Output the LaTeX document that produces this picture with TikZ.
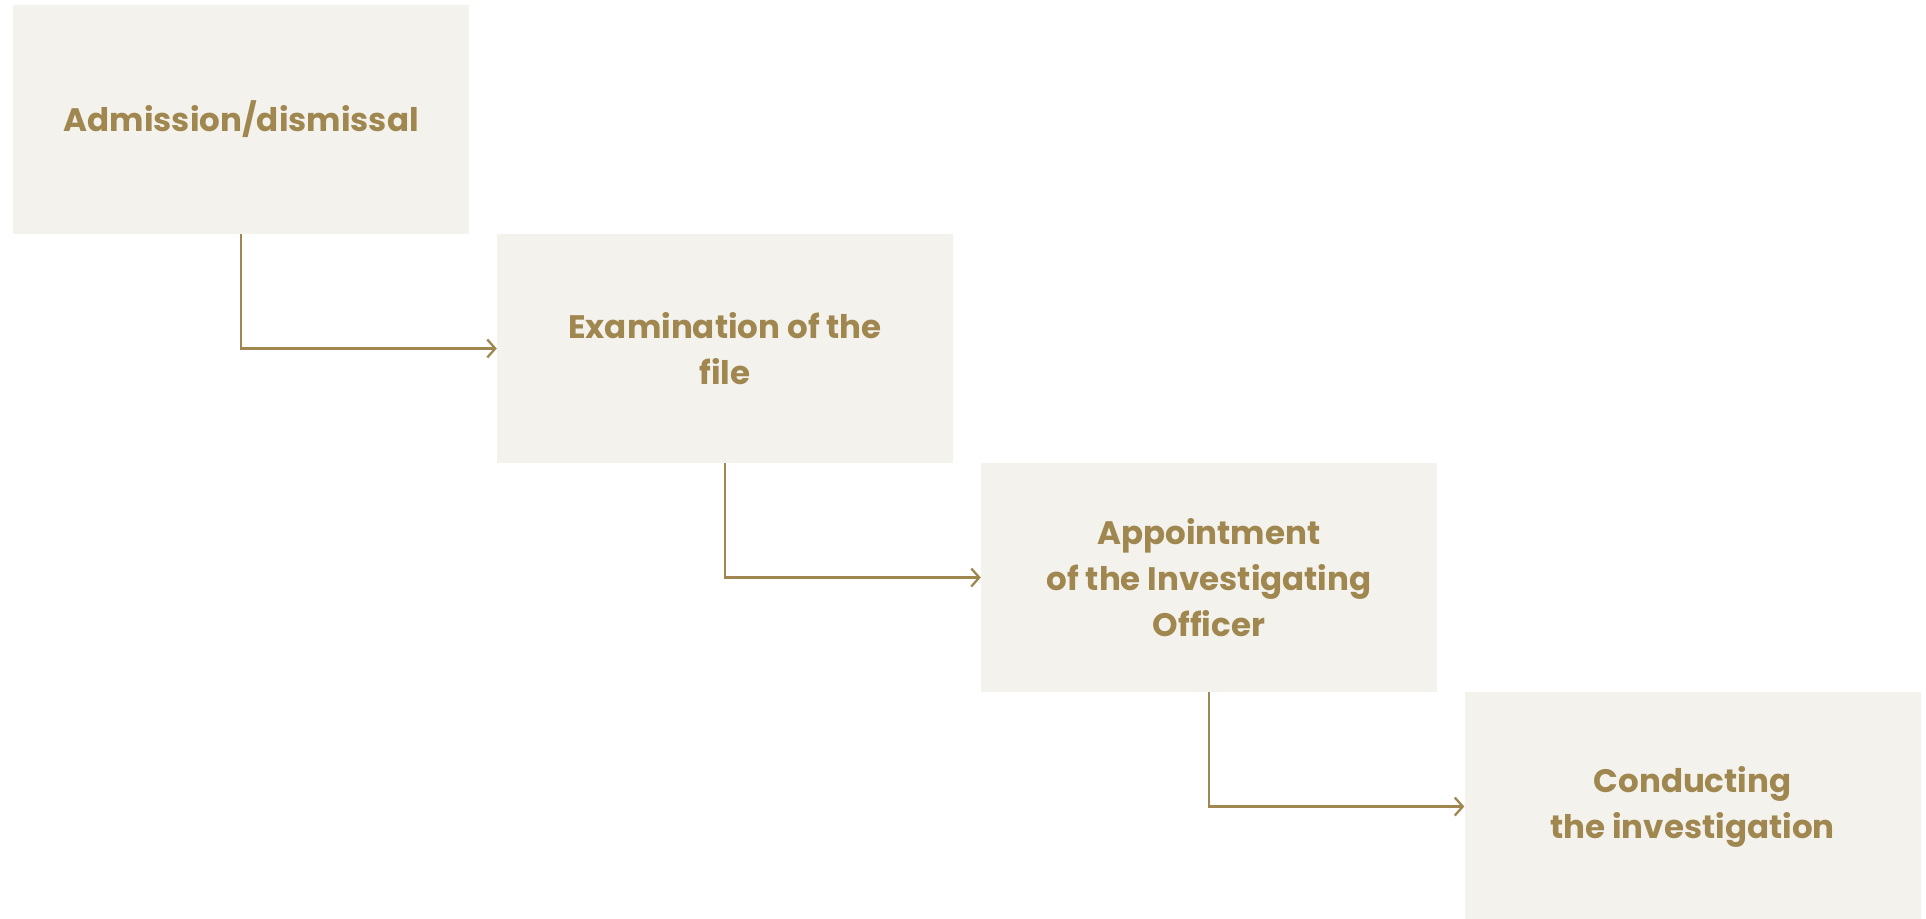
\documentclass[tikz,border=0pt]{standalone}
\usepackage{fontspec}
\setmainfont{Poppins}
\usetikzlibrary{arrows.meta}

\definecolor{gold}{HTML}{A0874F}
\definecolor{paper}{HTML}{F3F2ED}

\begin{document}
\begin{tikzpicture}[x=1pt,y=1pt]
  \useasboundingbox (0,0) rectangle (1926,-918);
  \tikzset{
    stage/.style={fill=paper,minimum width=456pt,minimum height=229pt,inner sep=0pt,
      align=center,text=gold,font=\fontsize{32.5}{46}\selectfont\bfseries},
    flow/.style={draw=gold,line width=2.3pt,-{Straight Barb[length=8pt,width=18pt,line width=2.3pt]}}
  }
  \begin{scope}
    \clip (0,0) rectangle (1926,-918);
    \node[stage] (admission) at (241.25,-119.5) {Admission/dismissal};
    \node[stage] (examination) at (725,-348.5) {Examination of the\\file};
    \node[stage] (appointment) at (1209,-577.5) {Appointment\\of the Investigating\\Officer};
    \node[stage] (conducting) at (1692.5,-806.5) {Conducting\\the investigation};
  \end{scope}

  % each step hands on to the next one
  \draw[flow] (admission.south) |- (examination.west);
  \draw[flow] (examination.south) |- (appointment.west);
  \draw[flow] (appointment.south) |- (conducting.west);
\end{tikzpicture}
\end{document}
